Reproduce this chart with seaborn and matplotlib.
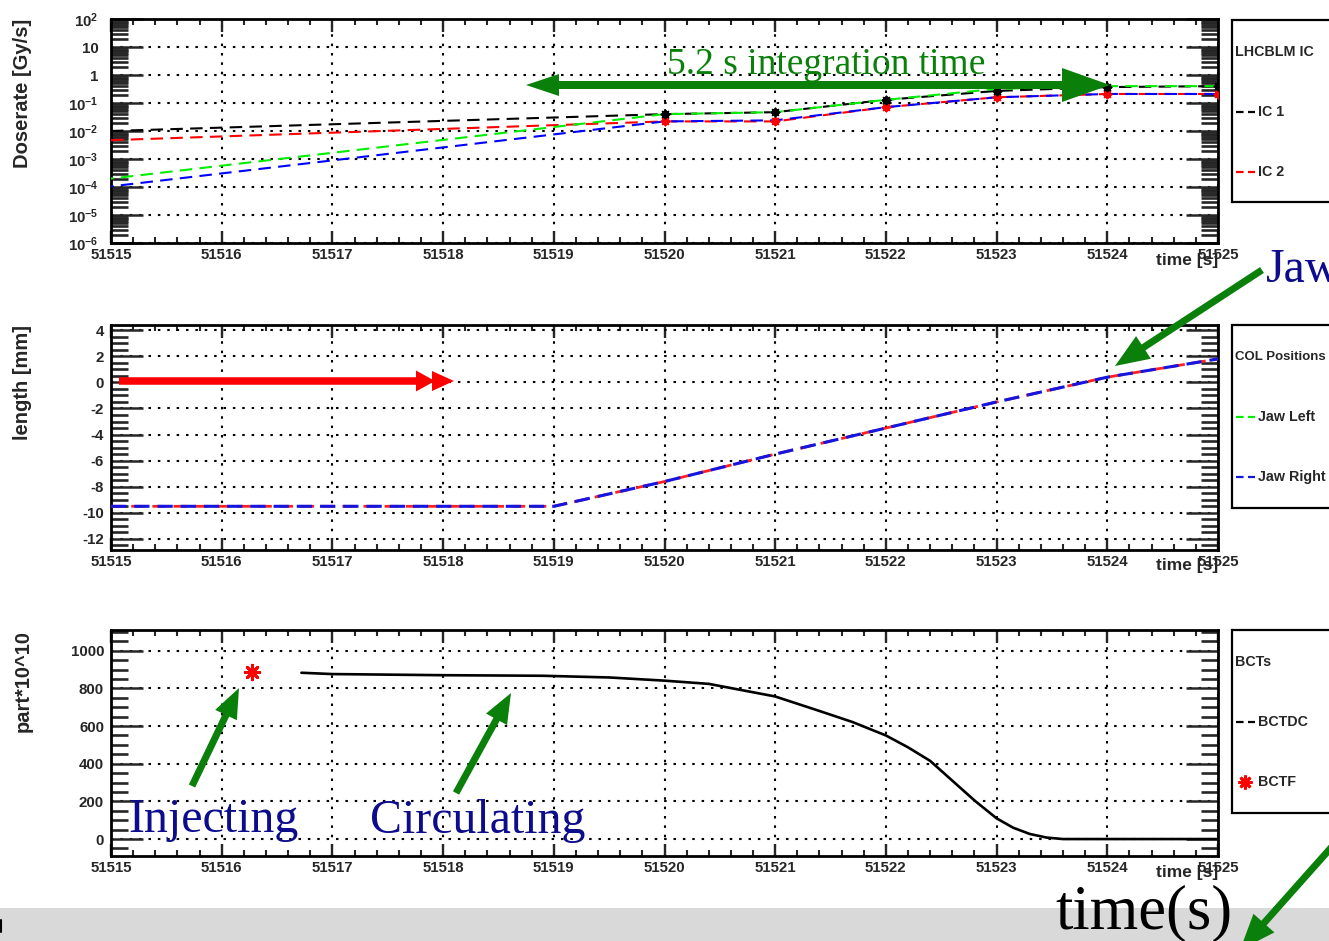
import numpy as np
import pandas as pd
import matplotlib
matplotlib.use("Agg")
import matplotlib.pyplot as plt
import seaborn as sns
from matplotlib.ticker import MultipleLocator, LogLocator, FuncFormatter, NullFormatter
from matplotlib.patches import Polygon, Rectangle
from matplotlib.lines import Line2D

# ---------------- data ----------------
# ionisation chamber dose rates [Gy/s]
t_ic = [51515, 51520, 51521, 51522, 51523, 51524, 51525]
ic1 = [0.010, 0.040, 0.047, 0.13, 0.27, 0.37, 0.40]
ic2 = [0.0047, 0.022, 0.022, 0.071, 0.16, 0.21, 0.21]
ic3 = [0.00020, 0.040, 0.047, 0.13, 0.32, 0.40, 0.40]
ic4 = [0.000105, 0.022, 0.024, 0.071, 0.16, 0.21, 0.21]

# collimator jaw position [mm]
t_col = [51515, 51516, 51517, 51518, 51519, 51520, 51521, 51522, 51523, 51524, 51525]
jaw_right = [-9.5, -9.5, -9.5, -9.5, -9.5, -7.6, -5.5, -3.5, -1.5, 0.4, 1.8]

# beam current transformers [part*10^10]
t_bctdc = [51516.72, 51517.0, 51518.0, 51518.9, 51519.5, 51520.0, 51520.4, 51521.0,
           51521.4, 51521.7, 51522.0, 51522.2, 51522.4, 51522.6, 51522.8, 51523.0,
           51523.15, 51523.3, 51523.45, 51523.6, 51524.0, 51525.0]
bctdc = [883, 876, 870, 867, 858, 841, 824, 757, 680, 621, 550, 487, 415, 310, 205, 110,
         60, 27, 8, 0, 0, 0]
t_bctf = [51516.27]
bctf = [889]

x_range = (51515, 51525)

# ---------------- style ----------------
sns.set_style("ticks")
plt.rcParams["font.family"] = ["Liberation Sans", "DejaVu Sans"]
plt.rcParams["font.weight"] = "bold"
plt.rcParams["axes.unicode_minus"] = False
plt.rcParams["mathtext.fontset"] = "custom"
plt.rcParams["mathtext.bf"] = "Liberation Sans:bold"
plt.rcParams["mathtext.rm"] = "Liberation Sans:bold"

W, H = 1329, 941
fig = plt.figure(figsize=(W / 100, H / 100), dpi=100)
fig.patch.set_facecolor("white")


def px_axes(l, t, r, b):
    return fig.add_axes([l / W, 1 - b / H, (r - l) / W, (b - t) / H])


def fx(x):
    return x / W


def fy(y):
    return 1 - y / H


ax1 = px_axes(111, 19, 1218, 243)
ax2 = px_axes(111, 325, 1218, 550)
ax3 = px_axes(111, 630, 1218, 856)

TICK_FS = 10.8
grid_ls = (0, (1.2, 3.3))

for ax in (ax1, ax2, ax3):
    ax.set_xlim(*x_range)
    ax.xaxis.set_major_locator(MultipleLocator(1))
    ax.xaxis.set_minor_locator(MultipleLocator(0.2))
    ax.xaxis.set_major_formatter(FuncFormatter(lambda v, p: f"{v:.0f}"))
    ax.tick_params(axis="x", which="both", direction="in", top=True, bottom=True,
                   labelsize=TICK_FS, pad=3.5)
    ax.tick_params(axis="x", which="major", length=9, width=1.7)
    ax.tick_params(axis="x", which="minor", length=4.5, width=1.5)
    ax.tick_params(axis="y", which="both", direction="in", left=True, right=True,
                   labelsize=TICK_FS)
    ax.tick_params(axis="y", which="major", length=23, width=1.8)
    ax.tick_params(axis="y", which="minor", length=12, width=1.9)
    ax.grid(True, which="major", color="black", linestyle=grid_ls, linewidth=1.5)
    ax.set_axisbelow(True)
    for s in ax.spines.values():
        s.set_linewidth(2)
        s.set_color("black")

# ---------------- top: dose rate ----------------
star = (8, 2, 0)
dash_a = (0, (6, 3.5))
dash_b = (4.75, (6, 3.5))
sns.lineplot(x=t_ic, y=ic2, ax=ax1, color="#ff0000", linestyle=dash_a, lw=1.5,
             estimator=None, legend=False, zorder=3)
sns.lineplot(x=t_ic, y=ic4, ax=ax1, color="#0000ff", linestyle=dash_b, lw=1.5,
             estimator=None, legend=False, zorder=3.1)
sns.lineplot(x=t_ic, y=ic1, ax=ax1, color="black", linestyle=dash_a, lw=1.5,
             estimator=None, legend=False, zorder=3.2)
sns.lineplot(x=t_ic, y=ic3, ax=ax1, color="#00ee00", linestyle=dash_b, lw=1.5,
             estimator=None, legend=False, zorder=3.3)
sns.scatterplot(x=t_ic[1:], y=ic2[1:], ax=ax1, color="#ff0000", marker=star, s=32,
                linewidth=1.4, edgecolor="#ff0000", legend=False, zorder=4)
sns.scatterplot(x=t_ic[1:], y=ic1[1:], ax=ax1, color="black", marker=star, s=32,
                linewidth=1.4, edgecolor="black", legend=False, zorder=4.1)

ax1.set_yscale("log")
ax1.set_ylim(1e-6, 1e2)
ax1.yaxis.set_major_locator(LogLocator(base=10, numticks=20))
ax1.yaxis.set_minor_locator(LogLocator(base=10, subs=np.arange(2, 10), numticks=20))
ax1.yaxis.set_minor_formatter(NullFormatter())


def log_fmt(v, pos):
    e = int(round(np.log10(v)))
    if e == 0:
        return "1"
    if e == 1:
        return "10"
    return r"$\mathbf{10^{%d}}$" % e


ax1.yaxis.set_major_formatter(FuncFormatter(log_fmt))
ax1.tick_params(axis="y", which="major", pad=9)
ax1.set_ylabel("")

# ---------------- middle: collimator position ----------------
sns.lineplot(x=t_col, y=jaw_right, ax=ax2, color="#ff2020", linestyle=(0.3, (5, 2.6)),
             lw=2.0, estimator=None, legend=False, zorder=3)
sns.lineplot(x=t_col, y=jaw_right, ax=ax2, color="#1515e0", linestyle=(0, (5, 2.6)),
             lw=2.2, estimator=None, legend=False, zorder=3.1)
ax2.set_ylim(-12.85, 4.4)
ax2.yaxis.set_major_locator(MultipleLocator(2))
ax2.yaxis.set_minor_locator(MultipleLocator(0.5))
ax2.yaxis.set_major_formatter(FuncFormatter(lambda v, p: f"{v:.0f}"))
ax2.tick_params(axis="y", which="major", pad=5)
ax2.set_ylabel("")

# ---------------- bottom: beam intensity ----------------
sns.lineplot(x=t_bctdc, y=bctdc, ax=ax3, color="black", lw=1.9, estimator=None,
             legend=False, zorder=3)
sns.scatterplot(x=t_bctf, y=bctf, ax=ax3, color="#ff0000", marker=star, s=110,
                linewidth=2.0, edgecolor="#ff0000", legend=False, zorder=4)
ax3.set_ylim(-90, 1110)
ax3.yaxis.set_major_locator(MultipleLocator(200))
ax3.yaxis.set_minor_locator(MultipleLocator(50))
ax3.yaxis.set_major_formatter(FuncFormatter(lambda v, p: f"{v:.0f}"))
ax3.tick_params(axis="y", which="major", pad=5)
ax3.set_ylabel("")

# x titles, right-aligned under each panel
for ax, off, hgt in ((ax1, 10, 224), (ax2, 8, 225), (ax3, 9, 226)):
    ax.set_xlabel("time [s]", loc="right", fontsize=12.5, fontweight="bold")
    ax.xaxis.set_label_coords(1.0, -off / hgt)

# y titles
for txt, top in (("Doserate [Gy/s]", 19), ("length [mm]", 325), ("part*10^10", 630)):
    fig.text(fx(23), fy(top), txt, rotation=90, ha="center", va="top",
             fontsize=14.5, fontweight="bold")


# ---------------- legend boxes ----------------
def legend_box(top, bottom, title, entries, title_fs=10.3):
    fig.patches.append(Rectangle((fx(1232), fy(bottom)), fx(200), (bottom - top) / H,
                                 transform=fig.transFigure, facecolor="white",
                                 edgecolor="black", lw=1.6, zorder=5))
    fig.text(fx(1235), fy(top + 32), title, ha="left", va="center", fontsize=title_fs,
             fontweight="bold", zorder=6)
    for i, (label, kind, color) in enumerate(entries):
        yy = top + 92 + 60 * i
        if kind == "line":
            fig.add_artist(Line2D([fx(1236), fx(1255)], [fy(yy), fy(yy)], color=color,
                                  lw=1.6, linestyle=(0, (3.4, 2.0)), zorder=6))
        else:
            fig.add_artist(Line2D([fx(1245)], [fy(yy)], color=color, marker=star,
                                  ms=10, mew=2.0, linestyle="none", zorder=6))
        fig.text(fx(1258), fy(yy), label, ha="left", va="center", fontsize=10.3,
                 fontweight="bold", zorder=6)


legend_box(20, 202, "LHCBLM IC", [("IC 1", "line", "black"), ("IC 2", "line", "#ff0000")])
legend_box(325, 508, "COL Positions", [("Jaw Left", "line", "#00ee00"),
                                       ("Jaw Right", "line", "#1515e0")], title_fs=9.5)
legend_box(630, 813, "BCTs", [("BCTDC", "line", "black"), ("BCTF", "marker", "#ff0000")])

# ---------------- slide overlay ----------------
fig.patches.append(Rectangle((0, 0), 1, (H - 908) / H, transform=fig.transFigure,
                             facecolor="#d9d9d9", edgecolor="none", zorder=-5))
fig.add_artist(Line2D([fx(1), fx(1)], [fy(920), fy(932)], color="black", lw=1.5))

GREEN = "#0a7f0a"
NAVY = "#0c0c8c"


def poly(points, color, z=8):
    fig.patches.append(Polygon([(fx(x), fy(y)) for x, y in points], closed=True,
                               transform=fig.transFigure, facecolor=color,
                               edgecolor="none", zorder=z))


def arrow(x0, y0, x1, y1, sw, hw, hl, color):
    p0 = np.array([x0, y0], float)
    tip = np.array([x1, y1], float)
    u = (tip - p0) / np.linalg.norm(tip - p0)
    n = np.array([-u[1], u[0]])
    base = tip - u * hl
    pts = [p0 + n * sw / 2, base + n * sw / 2, base + n * hw / 2, tip,
           base - n * hw / 2, base - n * sw / 2, p0 - n * sw / 2]
    poly([tuple(p) for p in pts], color)


# integration-time double arrow
poly([(526, 85), (559, 74), (559, 81), (1062, 81), (1062, 68), (1110, 85),
      (1062, 102), (1062, 89), (559, 89), (559, 96)], GREEN)
fig.text(fx(667), fy(74), "5.2 s integration time", ha="left", va="baseline",
         fontsize=27, color=GREEN, family="Liberation Serif", fontweight="normal", zorder=9)

# red fast-forward arrow
arrow(119, 381, 435, 381, 7.5, 21, 19, "#ff0000")
poly([(432, 371), (454, 381), (432, 391)], "#ff0000")

# green pointer arrows
arrow(1262, 270, 1115, 366, 7, 27, 34, GREEN)
arrow(192, 786, 239, 688, 7, 24, 30, GREEN)
arrow(456, 793, 511, 693, 7, 24, 30, GREEN)
arrow(1345, 832, 1240, 950, 7, 28, 36, GREEN)

serif = dict(family="Liberation Serif", fontweight="normal", va="baseline", ha="left",
             zorder=9)
fig.text(fx(1266), fy(282), "Jaw", fontsize=34.5, color=NAVY, **serif)
fig.text(fx(128), fy(832), "Injecting", fontsize=34.5, color=NAVY, **serif)
fig.text(fx(370), fy(833), "Circulating", fontsize=34.5, color=NAVY, **serif)
fig.text(fx(1055), fy(928), "time(s)", fontsize=45, color="black", **serif)

fig.savefig("out.png", dpi=100, facecolor="white")
